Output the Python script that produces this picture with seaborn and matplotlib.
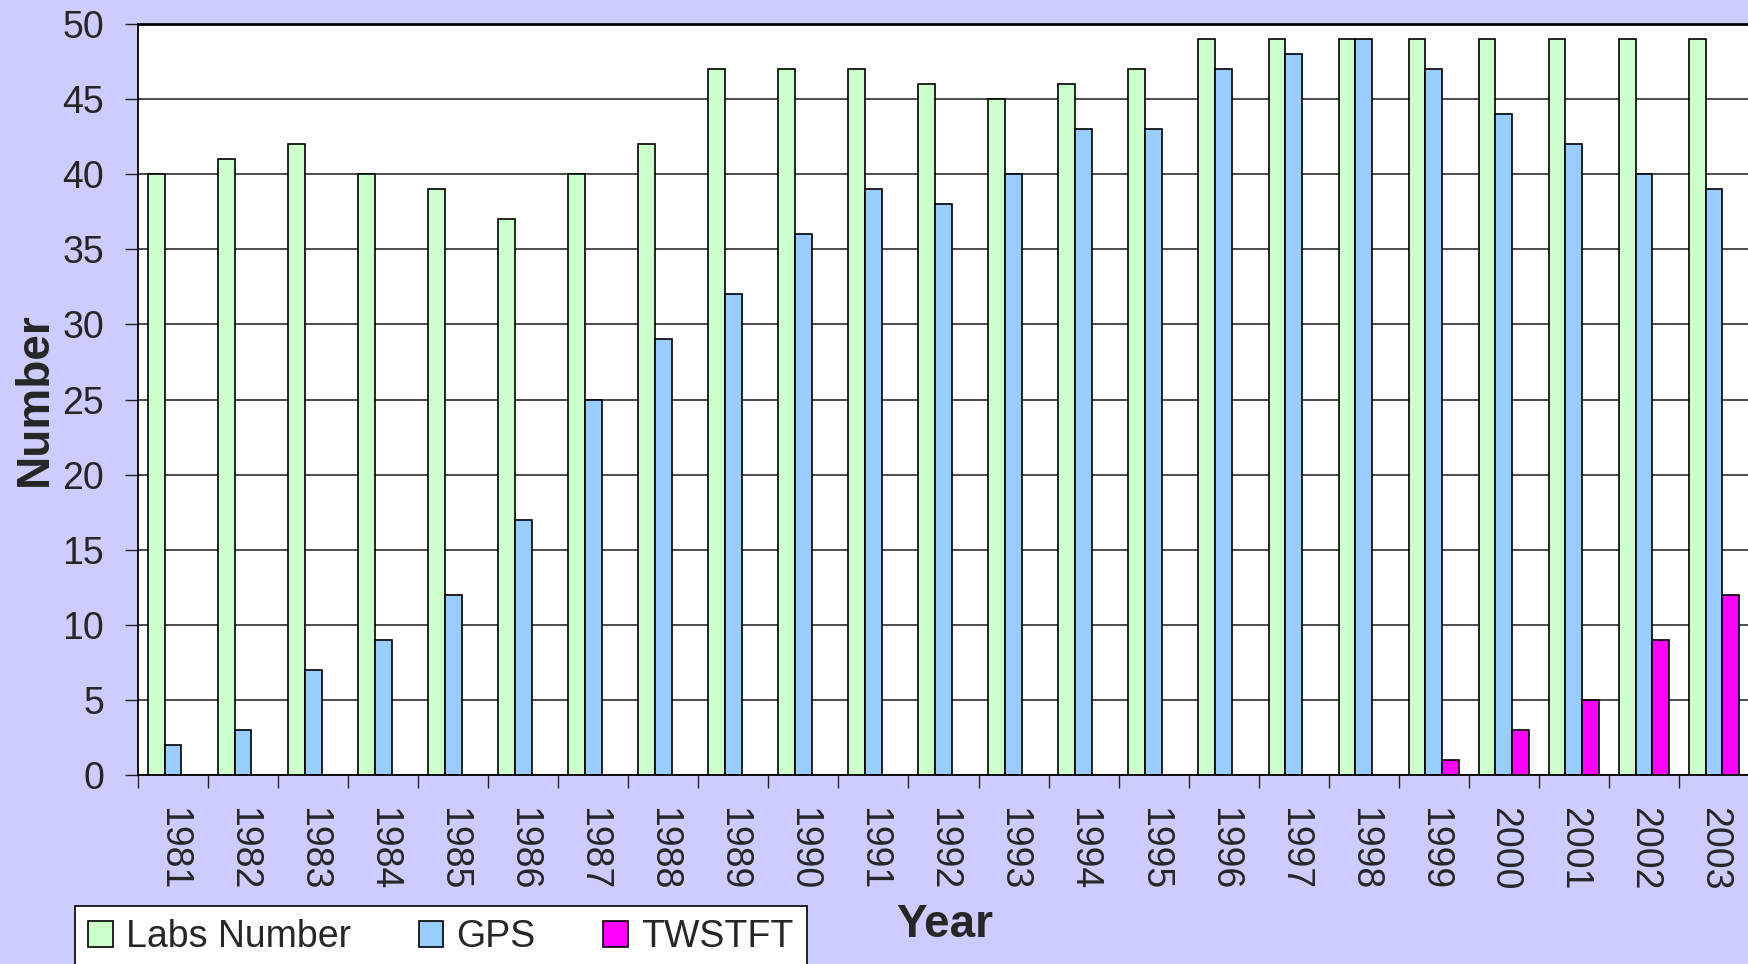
import pandas as pd
import seaborn as sns
import matplotlib.pyplot as plt

years = [str(y) for y in range(1981, 2004)]
labs_number = [40, 41, 42, 40, 39, 37, 40, 42, 47, 47, 47, 46, 45, 46, 47, 49, 49, 49, 49, 49, 49, 49, 49]
gps = [2, 3, 7, 9, 12, 17, 25, 29, 32, 36, 39, 38, 40, 43, 43, 47, 48, 49, 47, 44, 42, 40, 39]
twstft = [0, 0, 0, 0, 0, 0, 0, 0, 0, 0, 0, 0, 0, 0, 0, 0, 0, 0, 1, 3, 5, 9, 12]
series = ["Labs Number", "GPS", "TWSTFT"]
palette = {"Labs Number": "#CCFFCC", "GPS": "#99CCFF", "TWSTFT": "#FF00FF"}

df = pd.DataFrame({"Year": years, "Labs Number": labs_number, "GPS": gps, "TWSTFT": twstft})
df = df.melt(id_vars="Year", var_name="Series", value_name="Number")
df = df[df["Number"] > 0]

sns.set_style("white")
plt.rcParams["font.family"] = ["Liberation Sans", "DejaVu Sans"]

fig = plt.figure(figsize=(17.49, 9.64), dpi=100, facecolor="#CCCCFF")
ax = fig.add_axes([138 / 1749, 1 - 775 / 964, 1 - 138 / 1749, (775 - 24) / 964])
ax.set_facecolor("white")

sns.barplot(
    data=df, x="Year", y="Number", hue="Series",
    order=years, hue_order=series, palette=palette,
    width=0.72, gap=0, edgecolor="black", linewidth=1.2,
    saturation=1, ax=ax, legend=False,
)

ax.set_ylim(0, 50)
ax.set_xlim(-0.5, len(years) - 0.5)
ax.set_yticks(range(0, 51, 5))
ax.yaxis.grid(True, color="#1a1a1a", linewidth=1.1)
ax.set_axisbelow(True)
ax.tick_params(axis="y", labelsize=27, length=9.5, width=1, color="#222222", pad=15, left=True)
ax.set_xticks(range(len(years)))
ax.set_xticklabels(years, rotation=270, fontsize=27)
ax.tick_params(axis="x", length=0, pad=23)
ax.set_xticks([i - 0.5 for i in range(len(years) + 1)], minor=True)
ax.tick_params(axis="x", which="minor", length=9.5, width=1, color="#222222", bottom=True)
for s in ["left", "bottom", "top"]:
    ax.spines[s].set_color("black")
    ax.spines[s].set_linewidth(1.3)
ax.spines["top"].set_linewidth(2)
ax.set_xlabel("")
ax.set_ylabel("")

fig.text(945 / 1749, 1 - 925 / 964, "Year", fontsize=33, fontweight="bold", ha="center", va="center")
fig.text(35 / 1749, 1 - 399 / 964, "Number", fontsize=33, fontweight="bold", ha="center", va="center", rotation=90)

handles = [plt.Rectangle((0, 0), 1, 1, facecolor=palette[s], edgecolor="black", linewidth=1.2) for s in series]
leg = fig.legend(
    handles, series, ncol=3, loc="upper left",
    bbox_to_anchor=(75 / 1749, 1 - 906 / 964), fontsize=27,
    frameon=True, fancybox=False, edgecolor="black", facecolor="white", framealpha=1,
    handlelength=0.66, handleheight=0.66, handletextpad=0.35, columnspacing=1.8,
    borderpad=0.35, borderaxespad=0,
)
leg.get_frame().set_linewidth(1.2)

fig.savefig("out.png", dpi=100, facecolor=fig.get_facecolor())
